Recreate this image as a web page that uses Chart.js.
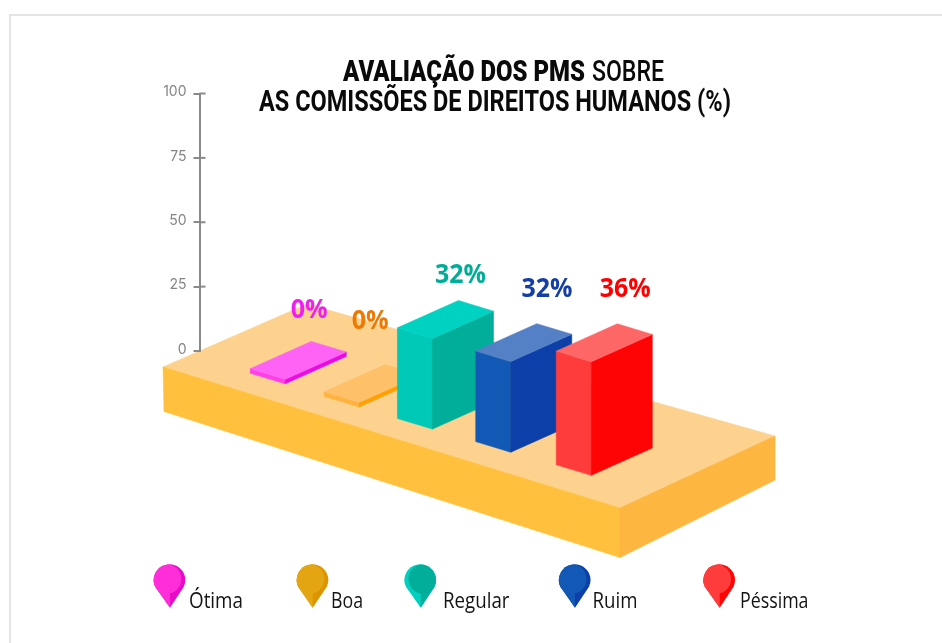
<!DOCTYPE html>
<html lang="pt">
<head>
<meta charset="utf-8">
<title>Avaliação dos PMs sobre as Comissões de Direitos Humanos</title>
<style>html,body{margin:0;padding:0;background:#fff}canvas{display:block}</style>
<script src="https://cdn.jsdelivr.net/npm/chart.js@4"></script>
</head>
<body>
<canvas id="c" width="942" height="643"></canvas>
<script>
const categories = ['Ótima', 'Boa', 'Regular', 'Ruim', 'Péssima'];
const values = [0, 0, 32, 32, 36];
const tickValues = [0, 25, 50, 75, 100];
const titleLine1Bold = 'AVALIAÇÃO DOS PMS';
const titleLine1Light = 'SOBRE';
const titleLine2 = 'AS COMISSÕES DE DIREITOS HUMANOS (%)';

const style = {
  faces: [
    {top:'#ff63f6', left:'#ff3fe6', right:'#e80ce2', label:'#f01ef0'},
    {top:'#fec069', left:'#ffb23e', right:'#ffa000', label:'#ef7800'},
    {top:'#00d2c1', left:'#00c9b8', right:'#00ae9a', label:'#00ad96'},
    {top:'#5480c6', left:'#1259b5', right:'#0c40a8', label:'#143fa4'},
    {top:'#ff6666', left:'#ff3c3c', right:'#ff0404', label:'#ff0000'}
  ],
  pins: [
    {base:'#e80cc8', hi:'#ff2ed8', x:169.5, tip:170, text:189, w:54, invert:false},
    {base:'#dc9400', hi:'#e4a512', x:312.5, tip:312.7, text:331, w:32, invert:false},
    {base:'#00d0c0', hi:'#00ae9a', x:420.2, tip:420.7, text:443, w:66.5, invert:true},
    {base:'#0c40a8', hi:'#1259b5', x:574.7, tip:575, text:592.5, w:45, invert:false},
    {base:'#ff0404', hi:'#ff3c3c', x:719.2, tip:719.7, text:740, w:68.5, invert:false}
  ],
  // layout of the isometric projection
  footLeft: {dx:35, dy:10.6},
  footDepth: {dx:61, dy:27.3},
  shiftX: 47.5, groundY: 32.8, groundSlope: 0.3025,
  slab: 4.5,
  barNudgeX: [0, -2.6, -5.8, -4, 0],
  heightGain: [1, 1, 1.058, 1.058, 1.19],
  labelOffset: [[-2,-32.5],[-15,-44.5],[2,-26.5],[10.2,-36],[8,-36]],
  labelWidth: {one: 37, two: 51}
};

function poly(ctx, pts, fill){
  ctx.beginPath();
  pts.forEach((p,i)=> i ? ctx.lineTo(p[0],p[1]) : ctx.moveTo(p[0],p[1]));
  ctx.closePath();
  ctx.fillStyle = fill;
  ctx.strokeStyle = fill;
  ctx.lineWidth = 0.6;
  ctx.lineJoin = 'round';
  ctx.fill();
  ctx.stroke();
}
function fitText(ctx, str, x, y, width, font, color){
  ctx.save();
  ctx.font = font;
  ctx.fillStyle = color;
  ctx.textAlign = 'left';
  ctx.textBaseline = 'alphabetic';
  const k = width / ctx.measureText(str).width;
  ctx.translate(x, y);
  ctx.scale(k, 1);
  ctx.fillText(str, 0, 0);
  ctx.restore();
}
function pinPath(ctx, cx, cy, r, tipX, tipY){
  ctx.beginPath();
  ctx.arc(cx, cy, r, Math.PI*0.86, Math.PI*0.14);
  ctx.lineTo(tipX, tipY);
  ctx.closePath();
}

const scene = {
  id: 'scene',
  beforeDraw(chart){
    const ctx = chart.ctx;
    // page frame
    ctx.save();
    ctx.fillStyle = '#fff';
    ctx.fillRect(0,0,942,643);
    ctx.strokeStyle = '#e4e4e4';
    ctx.lineWidth = 2;
    ctx.beginPath();
    ctx.moveTo(10,650); ctx.lineTo(10,15); ctx.lineTo(950,15);
    ctx.stroke();
    // platform
    poly(ctx, [[163,367],[307,304],[775,436],[620,508]], '#fdd28f');
    poly(ctx, [[163,367],[620,508],[620,557.5],[164,411.5]], '#ffc13d');
    poly(ctx, [[620,508],[775,436],[775,480],[620,557.5]], '#fdb63f');
    ctx.restore();
  },
  beforeDatasetDraw(chart, args){
    const ctx = chart.ctx, meta = args.meta, s = style;
    const first = meta.data[0];
    meta.data.forEach((el, i) => {
      const f = s.faces[i];
      const h = (el.base - el.y) * s.heightGain[i] + s.slab;
      const fx = el.x + s.shiftX + s.barNudgeX[i];
      const fy = el.base + s.groundY + s.groundSlope * (el.x - first.x);
      const lx = fx - s.footLeft.dx, ly = fy - s.footLeft.dy;
      const rx = fx + s.footDepth.dx, ry = fy - s.footDepth.dy;
      const bx = lx + s.footDepth.dx, by = ly - s.footDepth.dy;
      poly(ctx, [[lx,ly],[fx,fy],[fx,fy-h],[lx,ly-h]], f.left);
      poly(ctx, [[fx,fy],[rx,ry],[rx,ry-h],[fx,fy-h]], f.right);
      poly(ctx, [[lx,ly-h],[fx,fy-h],[rx,ry-h],[bx,by-h]], f.top);
      const txt = values[i] + '%';
      const w = values[i] < 10 ? s.labelWidth.one : s.labelWidth.two;
      fitText(ctx, txt, bx + s.labelOffset[i][0] - w/2, by - h + s.labelOffset[i][1] + 9,
              w, '700 26px "Open Sans"', f.label);
    });
    return false;
  },
  afterDraw(chart){
    const ctx = chart.ctx, y = chart.scales.y;
    // right half of the axis ticks
    ctx.save();
    ctx.strokeStyle = '#8a8a8a';
    ctx.lineWidth = 2;
    tickValues.forEach(v => {
      const py = y.getPixelForValue(v);
      if (v === 0) return;
      ctx.beginPath(); ctx.moveTo(y.right, py); ctx.lineTo(y.right + 6, py); ctx.stroke();
    });
    ctx.restore();
    // title
    const black = '#0a0a0a';
    fitText(ctx, titleLine1Bold, 343, 80.5, 242, '900 30px Roboto', black);
    fitText(ctx, titleLine1Light, 592, 80.5, 72, '500 30px Roboto', black);
    fitText(ctx, titleLine2, 259, 110.5, 472, '700 29.5px Roboto', black);
    // legend
    categories.forEach((name, i) => {
      const p = style.pins[i], cy = 580, r = 15.8, tipY = 607.7;
      ctx.save();
      pinPath(ctx, p.x, cy, r, p.tip, tipY);
      ctx.fillStyle = p.base;
      ctx.fill();
      ctx.clip();
      ctx.fillStyle = p.hi;
      const dir = p.invert ? 1 : -1;
      ctx.beginPath();
      ctx.arc(p.x + dir*3, cy - 1, 14.8, 0, Math.PI*2);
      ctx.fill();
      if (p.invert) ctx.fillRect(p.tip, cy, 30, 40);
      else ctx.fillRect(p.tip - 30, cy, 30, 40);
      ctx.restore();
      fitText(ctx, name, p.text, 607.7, p.w, '400 22.5px "Open Sans"', '#141414');
    });
  }
};

new Chart(document.getElementById('c'), {
  type: 'bar',
  data: {
    labels: categories,
    datasets: [{ label: 'Avaliação (%)', data: values, backgroundColor: style.faces.map(f => f.left) }]
  },
  plugins: [scene],
  options: {
    responsive: false,
    animation: false,
    layout: { padding: { left: 0, right: 360, top: 93.5, bottom: 292 } },
    plugins: { legend: { display: false }, title: { display: false }, tooltip: { enabled: false } },
    scales: {
      x: { display: false, offset: true },
      y: {
        min: 0, max: 100,
        afterFit(s){ s.width = 199.5; },
        afterBuildTicks(s){ s.ticks = tickValues.map(v => ({ value: v })); },
        border: { display: true, color: '#8a8a8a', width: 2 },
        grid: { drawOnChartArea: false, drawTicks: true, tickLength: 6, color: '#8a8a8a', lineWidth: 2 },
        ticks: { color: '#858585', padding: 7, labelOffset: -1.5, font: { family: 'Inter', size: 14 } }
      }
    }
  }
});
</script>
</body>
</html>
